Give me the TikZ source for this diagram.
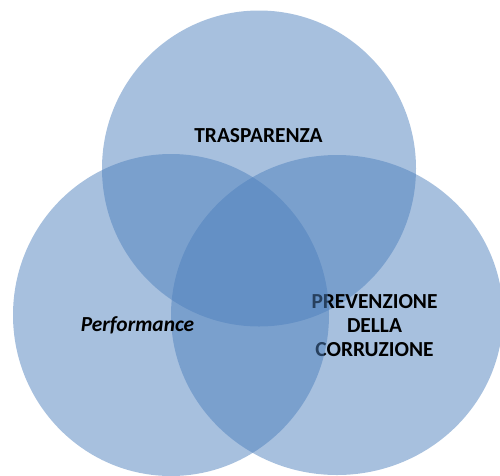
\documentclass[tikz,border=0pt]{standalone}
\usepackage{fontspec}
\setmainfont{Carlito}
\definecolor{accentblue}{RGB}{79,129,189}
\tikzset{
  venn/.style={fill=accentblue, fill opacity=0.5, draw=none},
  vlabel/.style={font=\fontsize{21.4}{24}\selectfont\bfseries, text=black, inner sep=0pt}
}
\begin{document}
\begin{tikzpicture}[x=1pt,y=-1pt]
  \useasboundingbox (0,0) rectangle (500,475);
  \clip (0,0) rectangle (500,475);
  % top circle
  \path[venn] (259,168.5) ellipse [x radius=157pt, y radius=158pt];
  % right circle
  \path[venn] (337,315) ellipse [x radius=166pt, y radius=160pt];
  \node[vlabel, align=center, anchor=center] (prev) at (374.5,325.7) {PREVENZIONE\\DELLA\\CORRUZIONE};
  % left circle
  \path[venn] (171,315) ellipse [x radius=158pt, y radius=161pt];
  \node[vlabel, anchor=base] (trasp) at (258.5,142.5) {TRASPARENZA};
  \node[vlabel, anchor=base] (perf) at (137.5,331.5) {\itshape Performance};
\end{tikzpicture}
\end{document}
